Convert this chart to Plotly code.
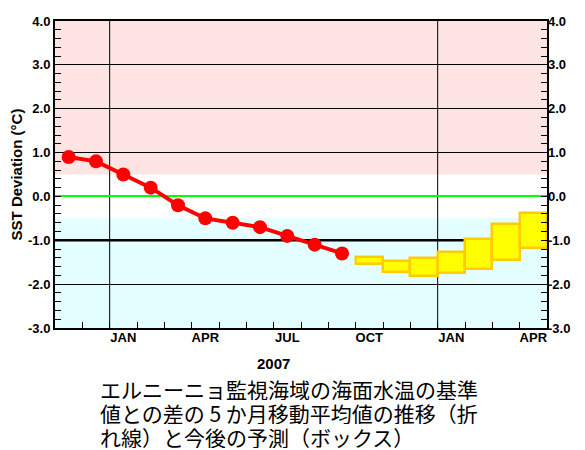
import plotly.graph_objects as go

# months from NOV 2006 to APR 2008, one slot each
months = ["NOV", "DEC", "JAN", "FEB", "MAR", "APR", "MAY", "JUN", "JUL",
          "AUG", "SEP", "OCT", "NOV", "DEC", "JAN", "FEB", "MAR", "APR"]

# 5-month running mean of SST deviation (NOV 2006 - SEP 2007)
observed = [0.9, 0.8, 0.5, 0.2, -0.2, -0.5, -0.6, -0.7, -0.9, -1.1, -1.3]

# forecast boxes (OCT 2007 - APR 2008)
fc_low = [-1.55, -1.73, -1.81, -1.75, -1.66, -1.45, -1.18]
fc_high = [-1.39, -1.47, -1.40, -1.26, -0.97, -0.62, -0.38]

y_ticks = [-3, -2, -1, 0, 1, 2, 3, 4]
y_labels = ["-3.0", "-2.0", "-1.0", "0.0", "1.0", "2.0", "3.0", "4.0"]
shown_months = ["JAN", "APR", "JUL", "OCT"]
year_label = "2007"
warm_limit = 0.5
cold_limit = -0.5
ref_line = -1.0
caption_lines = ["エルニーニョ監視海域の海面水温の基準",
                 "値との差の 5 か月移動平均値の推移（折",
                 "れ線）と今後の予測（ボックス）"]

n = len(months)
obs_x = [i + 0.5 for i in range(len(observed))]
fc_x = [len(observed) + i + 0.5 for i in range(len(fc_low))]
label_x = [i + 0.5 for i, m in enumerate(months) if m in shown_months]
label_txt = [m for m in months if m in shown_months]
jan_x = [i for i, m in enumerate(months) if m == "JAN"]

bold = dict(family="Liberation Sans", size=13, color="black", weight="bold")

fig = go.Figure()

fig.add_trace(go.Bar(
    x=fc_x, y=[h - l for h, l in zip(fc_high, fc_low)], base=fc_low,
    width=1, marker=dict(color="#FFFF00", line=dict(color="#FFCC00", width=2.5)),
    showlegend=False, hoverinfo="skip"))

fig.add_trace(go.Scatter(
    x=obs_x, y=observed, mode="lines+markers",
    line=dict(color="#FF0000", width=4),
    marker=dict(color="#FF0000", size=14),
    showlegend=False))

# dummy trace so the right axis is drawn
fig.add_trace(go.Scatter(x=[None], y=[None], yaxis="y2", xaxis="x2", showlegend=False))

shapes = [
    dict(type="rect", xref="paper", yref="y", x0=0, x1=1, y0=warm_limit, y1=max(y_ticks),
         fillcolor="#FFE4E4", line=dict(width=0), layer="below"),
    dict(type="rect", xref="paper", yref="y", x0=0, x1=1, y0=min(y_ticks), y1=cold_limit,
         fillcolor="#E4FFFF", line=dict(width=0), layer="below"),
    dict(type="line", xref="paper", yref="y", x0=0, x1=1, y0=ref_line, y1=ref_line,
         line=dict(color="black", width=2.5), layer="between"),
]
for jx in jan_x:
    shapes.append(dict(type="line", xref="x", yref="paper", x0=jx, x1=jx, y0=0, y1=1,
                       line=dict(color="black", width=1), layer="between"))

annotations = [
    dict(text=year_label, xref="x", yref="paper", x=jan_x[0] + 6, y=-0.08,
         yanchor="top", showarrow=False,
         font=dict(family="Liberation Sans", size=15, color="black", weight="bold")),
]
# caption below the chart, one annotation per line (plot height is 307px)
for k, line in enumerate(caption_lines):
    annotations.append(dict(
        text=line, xref="paper", yref="paper", x=0.088, y=-(60 + 24 * k) / 307,
        xanchor="left", yanchor="middle", align="left", valign="middle",
        height=23, showarrow=False,
        font=dict(family="Noto Sans CJK JP", size=21, color="black")))

# page body has an 8px margin, so the figure is 8px smaller than the window
fig.update_layout(
    width=577, height=442,
    margin=dict(l=47, r=38, t=13, b=122, autoexpand=False),
    paper_bgcolor="white", plot_bgcolor="white",
    bargap=0,
    shapes=shapes,
    annotations=annotations,
    xaxis=dict(range=[0, n], tickvals=list(range(n + 1)), showticklabels=False,
               ticks="inside", ticklen=6, tickcolor="black", tickwidth=1,
               showgrid=False, zeroline=False,
               showline=True, linecolor="black", linewidth=2, mirror=True),
    xaxis2=dict(range=[0, n], overlaying="x", side="bottom", anchor="y",
                tickvals=label_x, ticktext=label_txt, ticks="", tickfont=bold,
                showgrid=False, zeroline=False, showline=False),
    yaxis=dict(range=[min(y_ticks), max(y_ticks)], tickvals=y_ticks, ticktext=y_labels,
               tickfont=bold, ticks="inside", ticklen=6, tickcolor="black",
               minor=dict(dtick=0.2, ticks="inside", ticklen=6, tickcolor="black", showgrid=False),
               showgrid=True, gridcolor="black", gridwidth=1,
               zeroline=True, zerolinecolor="#00FF00", zerolinewidth=2,
               showline=True, linecolor="black", linewidth=2, mirror=True,
               title=dict(text="SST Deviation (°C)", standoff=4,
                          font=dict(family="Liberation Sans", size=15, color="black", weight="bold"))),
    yaxis2=dict(range=[min(y_ticks), max(y_ticks)], overlaying="y", side="right", anchor="x",
                tickvals=y_ticks, ticktext=y_labels, tickfont=bold,
                ticks="inside", ticklen=6, tickcolor="black",
                minor=dict(dtick=0.2, ticks="inside", ticklen=6, tickcolor="black", showgrid=False),
                showgrid=False, zeroline=False, showline=False),
)

fig.write_html("out.html")
